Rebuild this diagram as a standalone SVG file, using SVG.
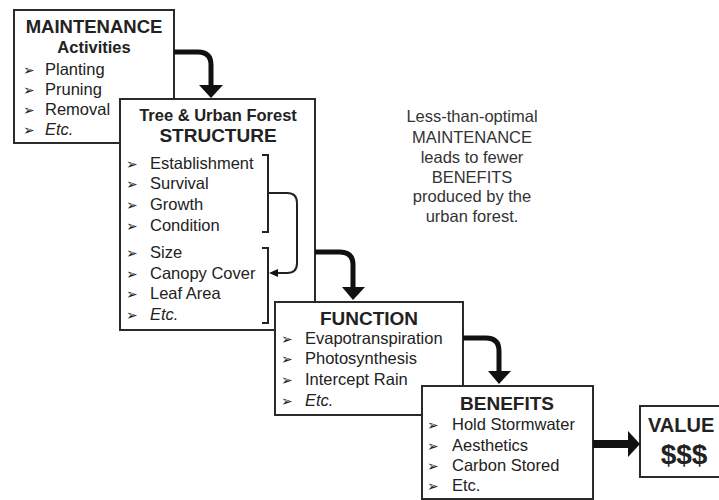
<svg xmlns="http://www.w3.org/2000/svg" width="719" height="500" viewBox="0 0 719 500">
<style>
.box{fill:#fff;stroke:#2a2a2a;stroke-width:2}
.t{font-family:"Liberation Sans",Arial,sans-serif;fill:#222}
.h{font-weight:bold;text-anchor:middle}
.it{font-size:16.5px}
.b{font-family:"DejaVu Sans",sans-serif;font-size:14px;fill:#222}
.arr{fill:none;stroke:#111;stroke-width:5}
.ah{fill:#111}
.br{fill:none;stroke:#222;stroke-width:2}
.note{font-family:"Liberation Sans",Arial,sans-serif;font-size:16.5px;fill:#333;text-anchor:middle}
</style>
<rect width="719" height="500" fill="#fff"/>
<g id="maintenance">
<rect class="box" x="14" y="10" width="160" height="133"/>
<text class="t h" x="94" y="33" font-size="18.5">MAINTENANCE</text>
<text class="t h" x="94" y="53" font-size="16.5">Activities</text>
<text class="b" x="23" y="75">➢</text><text class="t it" x="45" y="75">Planting</text>
<text class="b" x="23" y="95">➢</text><text class="t it" x="45" y="95">Pruning</text>
<text class="b" x="23" y="115">➢</text><text class="t it" x="45" y="115">Removal</text>
<text class="b" x="23" y="135">➢</text><text class="t it" x="45" y="135" font-style="italic">Etc.</text>
</g>
<g id="structure">
<rect class="box" x="120" y="99" width="195" height="231"/>
<text class="t h" x="218" y="121" font-size="16.5">Tree &amp; Urban Forest</text>
<text class="t h" x="218" y="142" font-size="19">STRUCTURE</text>
<text class="b" x="126" y="169">➢</text><text class="t it" x="150" y="169">Establishment</text>
<text class="b" x="126" y="189">➢</text><text class="t it" x="150" y="189">Survival</text>
<text class="b" x="126" y="210">➢</text><text class="t it" x="150" y="210">Growth</text>
<text class="b" x="126" y="231">➢</text><text class="t it" x="150" y="231">Condition</text>
<text class="b" x="126" y="258">➢</text><text class="t it" x="150" y="258">Size</text>
<text class="b" x="126" y="279">➢</text><text class="t it" x="150" y="279">Canopy Cover</text>
<text class="b" x="126" y="299">➢</text><text class="t it" x="150" y="299">Leaf Area</text>
<text class="b" x="126" y="320">➢</text><text class="t it" x="150" y="320" font-style="italic">Etc.</text>
</g>
<g id="function">
<rect class="box" x="275" y="302" width="188" height="113"/>
<text class="t h" x="369" y="325" font-size="19">FUNCTION</text>
<text class="b" x="281" y="344">➢</text><text class="t it" x="305" y="344">Evapotranspiration</text>
<text class="b" x="281" y="364">➢</text><text class="t it" x="305" y="364">Photosynthesis</text>
<text class="b" x="281" y="385">➢</text><text class="t it" x="305" y="385">Intercept Rain</text>
<text class="b" x="281" y="406">➢</text><text class="t it" x="305" y="406" font-style="italic">Etc.</text>
</g>
<g id="benefits">
<rect class="box" x="422" y="386" width="171" height="113"/>
<text class="t h" x="507" y="410" font-size="19">BENEFITS</text>
<text class="b" x="427" y="430">➢</text><text class="t it" x="452" y="430">Hold Stormwater</text>
<text class="b" x="427" y="451">➢</text><text class="t it" x="452" y="451">Aesthetics</text>
<text class="b" x="427" y="471">➢</text><text class="t it" x="452" y="471">Carbon Stored</text>
<text class="b" x="427" y="491">➢</text><text class="t it" x="452" y="491">Etc.</text>
</g>
<g id="value">
<rect class="box" x="640" y="406" width="90" height="71"/>
<text class="t" x="648" y="432" font-size="20" font-weight="bold">VALUE</text>
<text class="t h" x="684" y="464" font-size="28">$$$</text>
</g>
<g id="note">
<text class="note" x="472" y="122">Less-than-optimal</text>
<text class="note" x="472" y="143">MAINTENANCE</text>
<text class="note" x="472" y="163">leads to fewer</text>
<text class="note" x="472" y="183">BENEFITS</text>
<text class="note" x="472" y="202">produced by the</text>
<text class="note" x="472" y="222">urban forest.</text>
</g>
<g id="connectors">
<path class="arr" d="M174,52 H198 Q211,52 211,65 V87"/>
<polygon class="ah" points="199,85 223,85 211,98"/>
<path class="arr" d="M315,252 H340 Q353,252 353,265 V289"/>
<polygon class="ah" points="342,287 365,287 353,300"/>
<path class="arr" d="M463,338 H486 Q499,338 499,351 V373"/>
<polygon class="ah" points="488,371 511,371 499,384"/>
<path fill="none" stroke="#111" stroke-width="8" d="M593,444 H631"/>
<polygon class="ah" points="628,431 640,444 628,457"/>
<path class="br" d="M262,155 H268 V232 H262"/>
<path class="br" d="M262,248 H268 V323 H262"/>
<path class="br" d="M268,193 H287 Q297,193 297,203 V263 Q297,273 287,273 H276"/>
<polygon class="ah" points="269,273 278,269 278,277"/>
</g>
</svg>
